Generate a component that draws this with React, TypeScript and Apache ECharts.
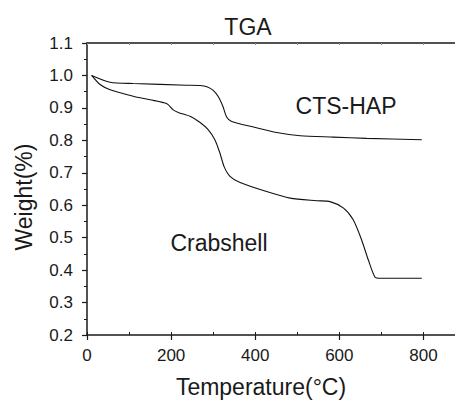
import React, { useEffect, useRef } from "react";
import * as echarts from "echarts";

const ctsHapT = [11, 55, 110, 237, 269, 285, 300, 312, 323, 332, 344, 396, 451, 507, 586, 665, 796];
const ctsHapW = [1.0, 0.979, 0.975, 0.970, 0.969, 0.965, 0.954, 0.935, 0.905, 0.872, 0.858, 0.841, 0.824, 0.814, 0.810, 0.806, 0.802];

const crabT = [11, 31, 55, 110, 150, 190, 205, 217, 245, 269, 288, 304, 316, 326, 340, 364, 427, 483, 546, 578, 610, 633, 653, 669, 685, 697, 796];
const crabW = [1.0, 0.972, 0.956, 0.936, 0.925, 0.913, 0.894, 0.886, 0.874, 0.855, 0.833, 0.802, 0.761, 0.719, 0.689, 0.670, 0.642, 0.622, 0.614, 0.611, 0.591, 0.555, 0.493, 0.431, 0.378, 0.375, 0.375];

const xTicks = [0, 200, 400, 600, 800];
const yTicks = [0.2, 0.3, 0.4, 0.5, 0.6, 0.7, 0.8, 0.9, 1.0, 1.1];

const FONT = "Liberation Sans, Arial, Helvetica, sans-serif";
const INK = "#1a1a1a";

export default function App() {
  const ref = useRef<HTMLDivElement>(null);
  useEffect(() => {
    if (!ref.current) return;
    const chart = echarts.init(ref.current, undefined, { renderer: "svg" });
    const pair = (xs: number[], ys: number[]) => xs.map((x, i) => [x, ys[i]]);
    chart.setOption({
      animation: false,
      backgroundColor: "#ffffff",
      grid: { left: 87, right: 0, top: 43, bottom: 65, containLabel: false, outerBoundsMode: "none" },
      xAxis: [
        {
          type: "value",
          min: xTicks[0],
          max: 875,
          interval: xTicks[1] - xTicks[0],
          position: "bottom",
          axisLine: { show: true, onZero: false, lineStyle: { color: INK, width: 1.5 } },
          axisTick: { show: true, inside: false, length: 5, lineStyle: { color: INK, width: 1.2 } },
          axisLabel: { show: true, margin: 12, fontSize: 17, color: INK, fontFamily: FONT, showMaxLabel: false },
          splitLine: { show: false },
        },
        {
          type: "value",
          min: xTicks[0],
          max: 875,
          interval: 100,
          position: "bottom",
          axisLine: { show: false, onZero: false },
          axisTick: { show: true, inside: true, length: 3, lineStyle: { color: INK, width: 1 } },
          axisLabel: { show: false },
          splitLine: { show: false },
        },
        {
          type: "value",
          min: xTicks[0],
          max: 875,
          interval: 100,
          position: "top",
          axisLine: { show: true, onZero: false, lineStyle: { color: INK, width: 1.5 } },
          axisTick: { show: true, inside: true, length: 2, lineStyle: { color: "#888", width: 1 } },
          axisLabel: { show: false },
          splitLine: { show: false },
        },
      ],
      yAxis: {
        type: "value",
        min: yTicks[0],
        max: yTicks[yTicks.length - 1],
        interval: 0.1,
        axisLine: { show: true, onZero: false, lineStyle: { color: INK, width: 1.5 } },
        axisTick: { show: true, inside: false, length: 5, lineStyle: { color: INK, width: 1.2 } },
        minorTick: { show: true, splitNumber: 2, length: 3, lineStyle: { color: INK, width: 1 } },
        axisLabel: {
          show: true,
          margin: 14,
          fontSize: 17,
          color: INK,
          fontFamily: FONT,
          formatter: (v: number) => v.toFixed(1),
        },
        splitLine: { show: false },
        minorSplitLine: { show: false },
      },
      graphic: [
        {
          type: "text",
          x: 248,
          y: 27,
          style: { text: "TGA", fontSize: 23, fill: INK, fontFamily: FONT, textAlign: "center", textVerticalAlign: "middle" },
        },
        {
          type: "text",
          x: 261,
          y: 387,
          style: { text: "Temperature(°C)", fontSize: 23, fill: INK, fontFamily: FONT, textAlign: "center", textVerticalAlign: "middle" },
        },
        {
          type: "text",
          x: 24,
          y: 197,
          rotation: Math.PI / 2,
          style: { text: "Weight(%)", fontSize: 23, fill: INK, fontFamily: FONT, textAlign: "center", textVerticalAlign: "middle" },
        },
        {
          type: "text",
          x: 346,
          y: 106,
          style: { text: "CTS-HAP", fontSize: 23, fill: INK, fontFamily: FONT, textAlign: "center", textVerticalAlign: "middle" },
        },
        {
          type: "text",
          x: 219,
          y: 243,
          style: { text: "Crabshell", fontSize: 23, fill: INK, fontFamily: FONT, textAlign: "center", textVerticalAlign: "middle" },
        },
      ],
      series: [
        {
          name: "CTS-HAP",
          type: "line",
          data: pair(ctsHapT, ctsHapW),
          showSymbol: false,
          smooth: 0.25,
          lineStyle: { color: "#111", width: 1.1 },
        },
        {
          name: "Crabshell",
          type: "line",
          data: pair(crabT, crabW),
          showSymbol: false,
          smooth: 0.25,
          lineStyle: { color: "#111", width: 1.1 },
        },
      ],
    });
    return () => chart.dispose();
  }, []);
  return <div ref={ref} style={{ width: 455, height: 400, position: "absolute", left: 0, top: 0 }} />;
}
